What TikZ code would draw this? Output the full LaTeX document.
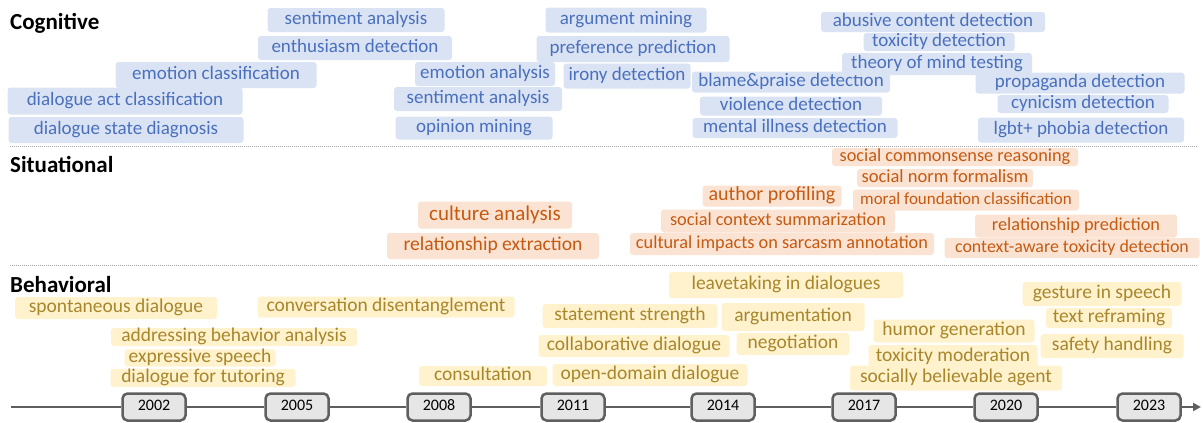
\documentclass[tikz,border=0pt]{standalone}
\usepackage{fontspec}
\setmainfont{Carlito}
\usetikzlibrary{arrows.meta}

\definecolor{cogfill}{HTML}{DAE3F3}
\definecolor{cogtext}{HTML}{4A70BD}
\definecolor{sitfill}{HTML}{FBE3D3}
\definecolor{sittext}{HTML}{C55A11}
\definecolor{behfill}{HTML}{FFF2CC}
\definecolor{behtext}{HTML}{A8862C}
\definecolor{axisgray}{HTML}{5F5F5F}
\definecolor{yearfill}{HTML}{E7E6E6}

\tikzset{
  fsz/.style={font=\fontsize{#1}{#1}\selectfont, text height=0.68*#1pt, text depth=0.2*#1pt},
  wh/.style 2 args={minimum width=#1, minimum height=#2},
  tag/.style={inner sep=0pt, rounded corners=3pt},
  cog/.style={tag, fill=cogfill, text=cogtext, fsz=19},
  sit/.style={tag, fill=sitfill, text=sittext, fsz=18.3},
  beh/.style={tag, fill=behfill, text=behtext, fsz=19.5},
  dimlabel/.style={font=\fontsize{23}{23}\selectfont\bfseries, anchor=base west, inner sep=0pt},
  year/.style={draw=axisgray, line width=2.5pt, fill=yearfill, rounded corners=5pt, wh={63}{27}, fsz=16},
  sepline/.style={draw=gray!70, line width=0.8pt, dash pattern=on 0.8pt off 1.2pt}
}

\begin{document}
\begin{tikzpicture}[x=1pt,y=-1pt]
    \useasboundingbox (0,0) rectangle (1203,423);

    % cognitive
    \node[dimlabel] (cogn) at (10,29) {Cognitive};
    \node[cog, wh={177}{24}] (sent1) at (356,20) {sentiment analysis};
    \node[cog, wh={194}{24}] (enth) at (355,48) {enthusiasm detection};
    \node[cog, wh={201}{26}] (emocls) at (216,75) {emotion classification};
    \node[cog, wh={235}{27}] (dact) at (125,101) {dialogue act classification};
    \node[cog, wh={235}{26}] (dstate) at (126,130) {dialogue state diagnosis};
    \node[cog, wh={140}{24}] (emoana) at (485,74) {emotion analysis};
    \node[cog, wh={168}{24}] (sent2) at (478,99) {sentiment analysis};
    \node[cog, wh={157}{23}] (opin) at (474,128) {opinion mining};
    \node[cog, wh={161}{25}] (argmin) at (626,20) {argument mining};
    \node[cog, wh={193}{26}] (pref) at (633,49) {preference prediction};
    \node[cog, wh={127}{25}] (irony) at (627,76) {irony detection};
    \node[cog, wh={198}{21}] (blame) at (791,82) {blame\&praise detection};
    \node[cog, wh={182}{19}] (viol) at (791,106) {violence detection};
    \node[cog, wh={205}{20}] (mental) at (795,128) {mental illness detection};
    \node[cog, wh={224}{20}] (abuse) at (933,22) {abusive content detection};
    \node[cog, wh={151}{18}] (toxdet) at (939,42) {toxicity detection};
    \node[cog, wh={190}{22}] (tom) at (937,64) {theory of mind testing};
    \node[cog, wh={209}{21}] (propa) at (1080,83) {propaganda detection};
    \node[cog, wh={171}{18}] (cyn) at (1083,104) {cynicism detection};
    \node[cog, wh={206}{25}] (lgbt) at (1081,130) {lgbt+ phobia detection};

    \draw[sepline] (10,146) -- (1198,146);

    % situational
    \node[dimlabel] (situ) at (10,172) {Situational};
    \node[sit, wh={246}{18}] (socsense) at (955,157) {social commonsense reasoning};
    \node[sit, wh={176}{18}, fsz=18.5] (socnorm) at (945,178) {social norm formalism};
    \node[sit, wh={139}{21}, fsz=20] (author) at (772,196) {author profiling};
    \node[sit, wh={226}{21}, fsz=17] (moral) at (966,200) {moral foundation classification};
    \node[sit, wh={154}{27}, fsz=21] (culture) at (495,215) {culture analysis};
    \node[sit, wh={212}{26}, fsz=19.6] (relext) at (493,246) {relationship extraction};
    \node[sit, wh={234}{23}] (soccon) at (778,221) {social context summarization};
    \node[sit, wh={304}{22}] (sarcasm) at (782,244) {cultural impacts on sarcasm annotation};
    \node[sit, wh={202}{23}] (relpred) at (1076,226) {relationship prediction};
    \node[sit, wh={255}{20}, fsz=17.9] (ctxtox) at (1072,248) {context-aware toxicity detection};

    \draw[sepline] (10,265) -- (1198,265);

    % behavioral
    \node[dimlabel] (behav) at (10,292) {Behavioral};
    \node[beh, wh={202}{22}] (spont) at (116,308) {spontaneous dialogue};
    \node[beh, wh={257}{21}] (disent) at (386,307) {conversation disentanglement};
    \node[beh, wh={246}{18}] (address) at (234,337) {addressing behavior analysis};
    \node[beh, wh={151}{17}] (express) at (200,358) {expressive speech};
    \node[beh, wh={185}{18}] (tutor) at (203,378) {dialogue for tutoring};
    \node[beh, wh={128}{20}] (consult) at (483,376) {consultation};
    \node[beh, wh={175}{24}] (stmt) at (630,316) {statement strength};
    \node[beh, wh={191}{22}] (collab) at (634,346) {collaborative dialogue};
    \node[beh, wh={195}{22}] (opendom) at (650,375) {open-domain dialogue};
    \node[beh, wh={234}{26}] (leave) at (786,285) {leavetaking in dialogues};
    \node[beh, wh={143}{28}] (argu) at (793,317) {argumentation};
    \node[beh, wh={113}{22}] (nego) at (793,344) {negotiation};
    \node[beh, wh={161}{23}] (humor) at (954,331) {humor generation};
    \node[beh, wh={169}{24}] (toxmod) at (953,357) {toxicity moderation};
    \node[beh, wh={212}{25}] (believ) at (956,378) {socially believable agent};
    \node[beh, wh={159}{24}] (gesture) at (1102,294) {gesture in speech};
    \node[beh, wh={126}{20}] (reframe) at (1109,318) {text reframing};
    \node[beh, wh={143}{24}] (safety) at (1112,346) {safety handling};

    % time axis
    \coordinate (tstart) at (11,407);
    \coordinate (tend) at (1201,407);
    \foreach \yr/\x in {2002/154,2005/297,2008/439,2011/573,2014/723,2017/864,2020/1006,2023/1149}
      \node[year] (y\yr) at (\x,407) {\yr};
    \draw[axisgray, line width=2.5pt, -{Triangle[length=8pt,width=8pt]}]
      (tstart) -- (y2002) -- (y2005) -- (y2008) -- (y2011) -- (y2014)
      -- (y2017) -- (y2020) -- (y2023) -- (tend);
\end{tikzpicture}
\end{document}
